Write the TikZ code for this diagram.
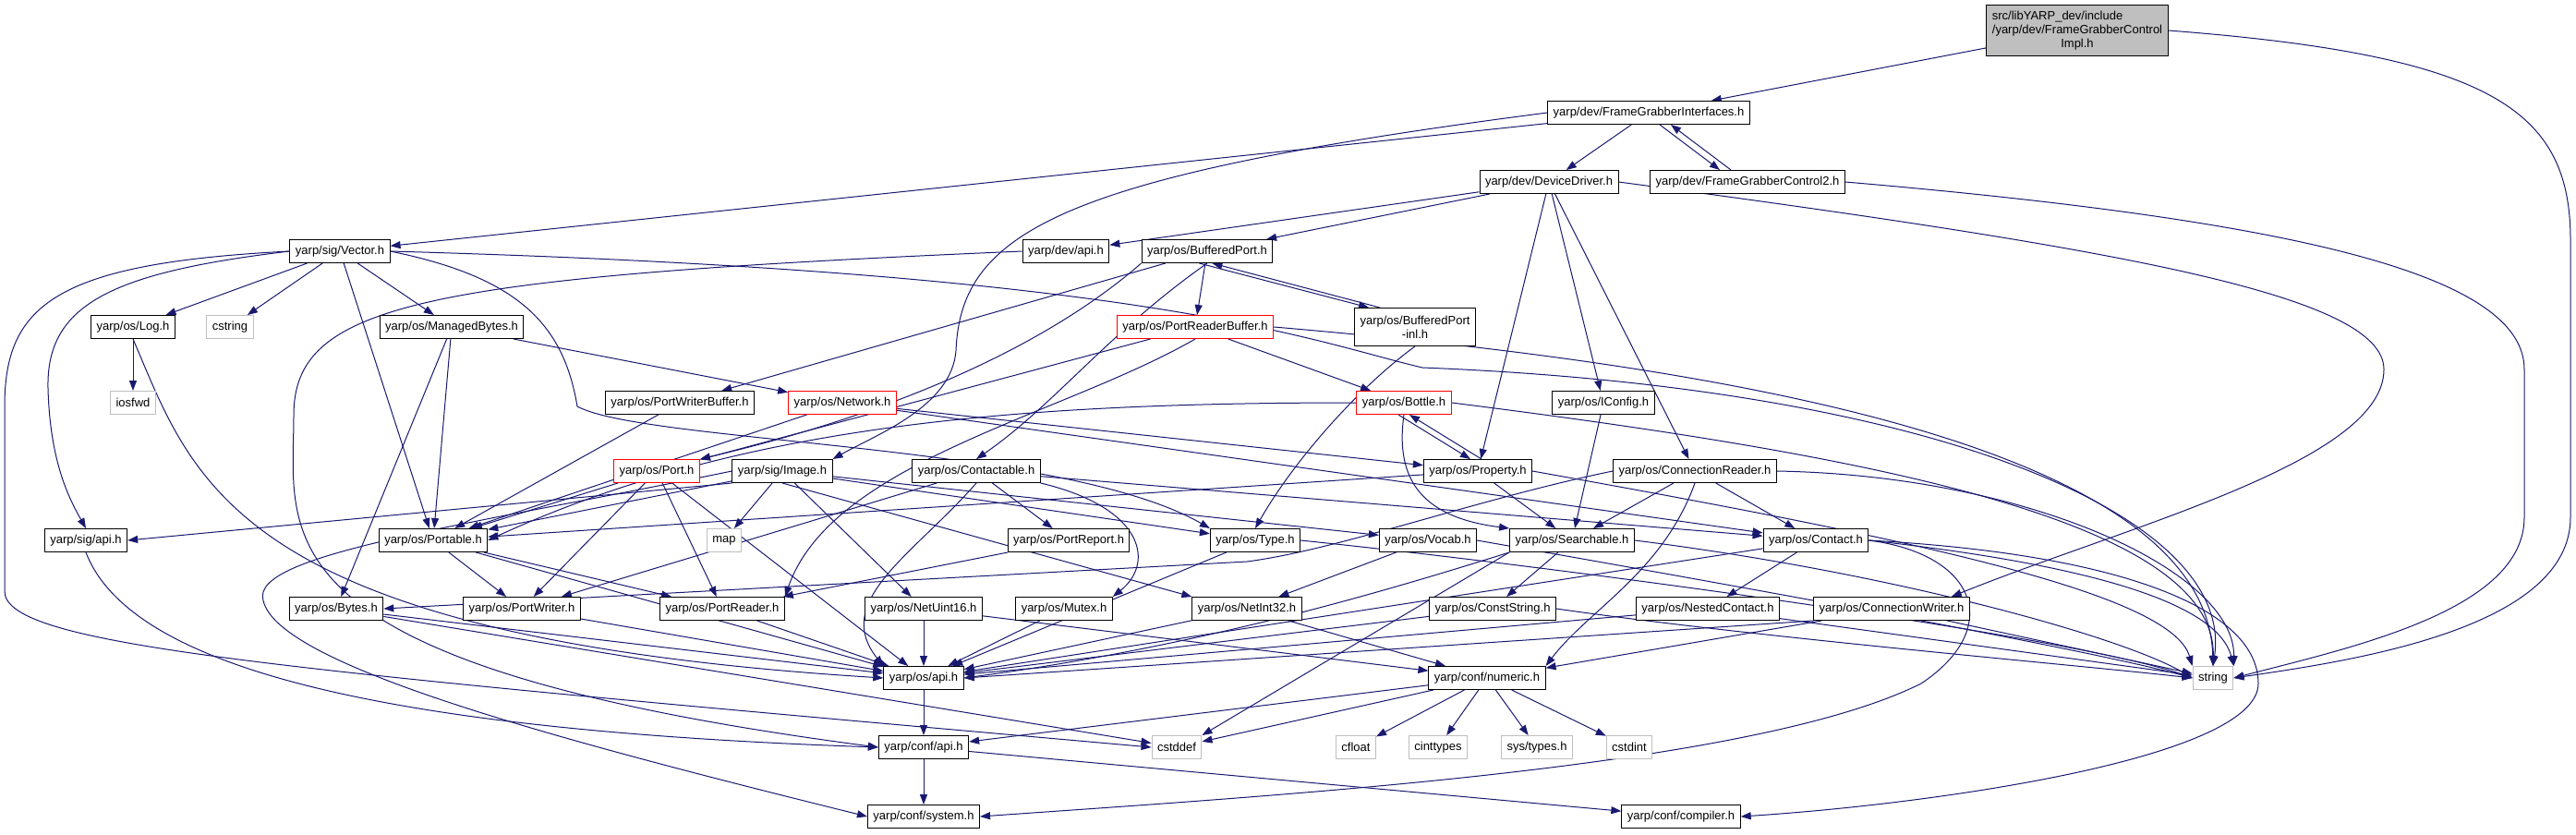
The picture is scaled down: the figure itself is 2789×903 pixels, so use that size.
\documentclass[tikz,border=0pt]{standalone}
\usepackage{fontspec}
\setmainfont{Liberation Sans}
\usetikzlibrary{arrows.meta,backgrounds}
\definecolor{edgeblue}{HTML}{191970}
\definecolor{nodegray}{HTML}{BFBFBF}
\begin{document}
\begin{tikzpicture}[
  x=1pt, y=-1pt,
  fnode/.style={draw=black, fill=white, line width=1pt, minimum height=25pt, inner xsep=6pt, inner ysep=2pt, font=\fontsize{13}{15}\selectfont},
  rnode/.style={fnode, draw=red},
  snode/.style={fnode, draw=nodegray},
  dep/.style={draw=edgeblue, line width=1pt, -{Triangle[length=11pt,width=8pt]}}
]
\useasboundingbox (0,0) rectangle (2789,903);
% header files
\node[fnode, fill=nodegray, minimum height=55pt] (root) at (2249,33)
  {\begin{tabular}{@{}l@{}}src/libYARP\_dev/include\\/yarp/dev/FrameGrabberControl\\\multicolumn{1}{@{}c@{}}{Impl.h}\end{tabular}};
\node[fnode] (fgi) at (1785,122) {yarp/dev/FrameGrabberInterfaces.h};
\node[fnode] (dd) at (1677,197) {yarp/dev/DeviceDriver.h};
\node[fnode] (fgc2) at (1892,197) {yarp/dev/FrameGrabberControl2.h};
\node[fnode] (vector) at (368,272) {yarp/sig/Vector.h};
\node[fnode] (devapi) at (1154,272) {yarp/dev/api.h};
\node[fnode] (bport) at (1307,272) {yarp/os/BufferedPort.h};
\node[fnode] (log) at (144,354) {yarp/os/Log.h};
\node[snode] (cstring) at (249,354) {cstring};
\node[fnode] (mbytes) at (489,354) {yarp/os/ManagedBytes.h};
\node[rnode] (prbuf) at (1294,354) {yarp/os/PortReaderBuffer.h};
\node[fnode, align=center, minimum height=41pt] (bportinl) at (1532,354) {yarp/os/BufferedPort\\-inl.h};
\node[snode] (iosfwd) at (144,436) {iosfwd};
\node[fnode] (pwbuf) at (736,436) {yarp/os/PortWriterBuffer.h};
\node[rnode] (network) at (912,436) {yarp/os/Network.h};
\node[rnode] (bottle) at (1520,436) {yarp/os/Bottle.h};
\node[fnode] (iconfig) at (1736,436) {yarp/os/IConfig.h};
\node[rnode] (port) at (711,510) {yarp/os/Port.h};
\node[fnode] (image) at (847,510) {yarp/sig/Image.h};
\node[fnode] (contactable) at (1057,510) {yarp/os/Contactable.h};
\node[fnode] (property) at (1600,510) {yarp/os/Property.h};
\node[fnode] (creader) at (1835,510) {yarp/os/ConnectionReader.h};
\node[fnode] (sigapi) at (93,585) {yarp/sig/api.h};
\node[fnode] (portable) at (469,585) {yarp/os/Portable.h};
\node[snode] (map) at (784,585) {map};
\node[fnode] (portreport) at (1157,585) {yarp/os/PortReport.h};
\node[fnode] (type) at (1359,585) {yarp/os/Type.h};
\node[fnode] (vocab) at (1546,585) {yarp/os/Vocab.h};
\node[fnode] (searchable) at (1702,585) {yarp/os/Searchable.h};
\node[fnode] (contact) at (1966,585) {yarp/os/Contact.h};
\node[fnode] (bytes) at (364,659) {yarp/os/Bytes.h};
\node[fnode] (pwriter) at (565,659) {yarp/os/PortWriter.h};
\node[fnode] (preader) at (782,659) {yarp/os/PortReader.h};
\node[fnode] (netuint16) at (1000,659) {yarp/os/NetUint16.h};
\node[fnode] (mutex) at (1152,659) {yarp/os/Mutex.h};
\node[fnode] (netint32) at (1350,659) {yarp/os/NetInt32.h};
\node[fnode] (conststring) at (1616,659) {yarp/os/ConstString.h};
\node[fnode] (nestedcontact) at (1849,659) {yarp/os/NestedContact.h};
\node[fnode] (cwriter) at (2048,659) {yarp/os/ConnectionWriter.h};
\node[fnode] (osapi) at (1000,734) {yarp/os/api.h};
\node[fnode] (numeric) at (1610,734) {yarp/conf/numeric.h};
\node[snode] (string) at (2396,734) {string};
\node[fnode] (confapi) at (1000,809) {yarp/conf/api.h};
\node[snode] (cstddef) at (1274,809) {cstddef};
\node[snode] (cfloat) at (1468,809) {cfloat};
\node[snode] (cinttypes) at (1557,809) {cinttypes};
\node[snode] (systypes) at (1664,809) {sys/types.h};
\node[snode] (cstdint) at (1764,809) {cstdint};
\node[fnode] (system) at (1000,884) {yarp/conf/system.h};
\node[fnode] (compiler) at (1820,884) {yarp/conf/compiler.h};
\begin{pgfonlayer}{background}
% straight includes
\foreach \a/\b in {root/fgi, fgi/vector, fgi/dd, dd/devapi, dd/bport, dd/property, dd/iconfig, dd/creader,
  vector/log, vector/cstring, vector/mbytes, vector/portable, log/iosfwd,
  mbytes/portable, mbytes/bytes, mbytes/network, bport/prbuf, bport/pwbuf,
  prbuf/port, prbuf/bottle, pwbuf/portable,
  network/portable, network/property, network/contact, iconfig/searchable,
  property/searchable, property/portable, creader/searchable, creader/contact,
  port/portable, port/pwriter, port/preader, port/osapi,
  image/portable, image/map, image/netuint16, image/type, image/vocab,
  contactable/contact, contactable/pwriter, contactable/portreport,
  portreport/preader, portable/pwriter, portable/preader, portable/osapi,
  type/osapi, vocab/netint32, searchable/conststring,
  contact/nestedcontact, contact/osapi, bytes/osapi, bytes/cstddef, pwriter/osapi, preader/osapi,
  netuint16/osapi, netuint16/numeric, mutex/osapi, netint32/osapi, netint32/numeric,
  conststring/osapi, nestedcontact/osapi, cwriter/numeric,
  numeric/cfloat, numeric/cinttypes, numeric/systypes, numeric/cstdint, numeric/confapi, numeric/cstddef,
  osapi/confapi, confapi/system, confapi/compiler, nestedcontact/string, cwriter/string}{
  \draw[dep] (\a)--(\b);
}
\draw[dep] (image.south west) -- (sigapi.east);
\draw[dep] (image.south) -- (netint32.north west);
\draw[dep] (searchable.south west) -- (cstddef.north east);
\draw[dep] (cwriter.south west) -- (osapi.east);
% two-way pairs
\draw[dep] ([xshift=12pt]fgi.south) -- ([xshift=-30pt]fgc2.north);
\draw[dep] ([xshift=-18pt]fgc2.north) -- ([xshift=24pt]fgi.south);
\draw[dep] ([xshift=-80pt]bport.south east) -- ([xshift=-50pt]bportinl.north);
\draw[dep] ([xshift=-38pt]bportinl.north) -- ([xshift=-66pt]bport.south east);
\draw[dep] ([xshift=-6pt]bottle.south) -- ([xshift=-8pt]property.north);
\draw[dep] ([xshift=4pt]property.north) -- ([xshift=6pt]bottle.south);
% routed includes
\draw[dep] (root.east) .. controls (2700,60) and (2783,120) .. (2783,260) -- (2783,560) .. controls (2783,680) and (2550,715) .. (string.east);
\draw[dep] (fgc2.east) .. controls (2500,240) and (2733,300) .. (2733,400) -- (2733,560) .. controls (2733,660) and (2550,700) .. (string.east);
\draw[dep] (dd.east) .. controls (2300,270) and (2581,320) .. (2581,400) .. controls (2581,500) and (2300,570) .. ([xshift=-20pt]cwriter.north east);
\draw[dep] (fgi.west) .. controls (1150,190) and (1040,250) .. (1035,380) .. controls (1030,440) and (950,470) .. (image.north east);
\draw[dep] (vector.west) .. controls (120,295) and (50,330) .. (52,420) .. controls (54,500) and (75,540) .. (sigapi.north);
\draw[dep] (vector.west) .. controls (60,285) and (5,330) .. (5,440) -- (5,640) .. controls (5,700) and (300,725) .. (cstddef.west);
\draw[dep] (vector.east) .. controls (560,300) and (610,350) .. (625,440) .. controls (700,480) and (1150,480) .. (type.north west);
\draw[dep] (log.south) .. controls (210,520) and (250,690) .. (osapi.west);
\draw[dep] (devapi.west) .. controls (450,300) and (318,330) .. (318,450) .. controls (318,580) and (270,720) .. (confapi.west);
\draw[dep] (sigapi.south) .. controls (140,720) and (400,790) .. (confapi.west);
\draw[dep] (image.west) .. controls (500,570) and (270,600) .. (285,650) .. controls (300,720) and (600,800) .. (system.west);
\draw[dep] (bport.south west) .. controls (1150,360) and (1000,440) .. (port.north east);
\draw[dep] (bport.south) .. controls (1200,360) and (1140,440) .. (contactable.north);
\draw[dep] (bportinl.south) .. controls (1470,420) and (1400,500) .. (type.north);
\draw[dep] (prbuf.south) .. controls (1150,450) and (900,500) .. (preader.north east);
\draw[dep] (bottle.south) .. controls (1510,520) and (1540,560) .. (searchable.north west);
\draw[dep] (bottle.west) .. controls (1100,436) and (800,460) .. (portable.east);
\draw[dep] (contactable.south east) .. controls (1240,550) and (1250,610) .. (mutex.north east);
\draw[dep] (contactable.south) .. controls (990,600) and (900,650) .. (osapi.north west);
\draw[dep] (creader.west) .. controls (1600,540) and (1450,595) .. (1350,608) -- (bytes.east);
\draw[dep] (creader.south) .. controls (1800,620) and (1720,660) .. (numeric.north east);
\draw[dep] (searchable.south west) .. controls (1500,640) and (1300,700) .. (osapi.east);
\draw[dep] (contact.east) .. controls (2300,600) and (2445,660) .. (2445,740) .. controls (2445,820) and (2100,870) .. (compiler.east);
\draw[dep] (contact.east) .. controls (2140,600) and (2170,680) .. (2080,740) .. controls (1900,830) and (1400,860) .. (system.east);
% into string
\draw[dep] (vector.east) .. controls (1250,295) and (1420,370) .. (1540,398) .. controls (2100,420) and (2420,560) .. (string.north);
\draw[dep] (prbuf.east) .. controls (1800,390) and (2390,470) .. (string.north);
\draw[dep] (bottle.east) .. controls (2000,490) and (2400,560) .. (string.north);
\draw[dep] (property.east) .. controls (2050,580) and (2350,640) .. (string.north west);
\draw[dep] (creader.east) .. controls (2200,515) and (2420,620) .. (string.north east);
\draw[dep] (searchable.east) .. controls (2050,620) and (2300,690) .. (string.west);
\draw[dep] (contact.east) .. controls (2250,610) and (2400,650) .. (string.north east);
\draw[dep] (type.east) .. controls (1700,615) and (2250,690) .. (string.west);
\draw[dep] (vocab.east) .. controls (1800,620) and (2250,700) .. (string.west);
\draw[dep] (conststring.east) .. controls (1900,690) and (2250,720) .. (string.west);
\end{pgfonlayer}
\end{tikzpicture}
\end{document}
